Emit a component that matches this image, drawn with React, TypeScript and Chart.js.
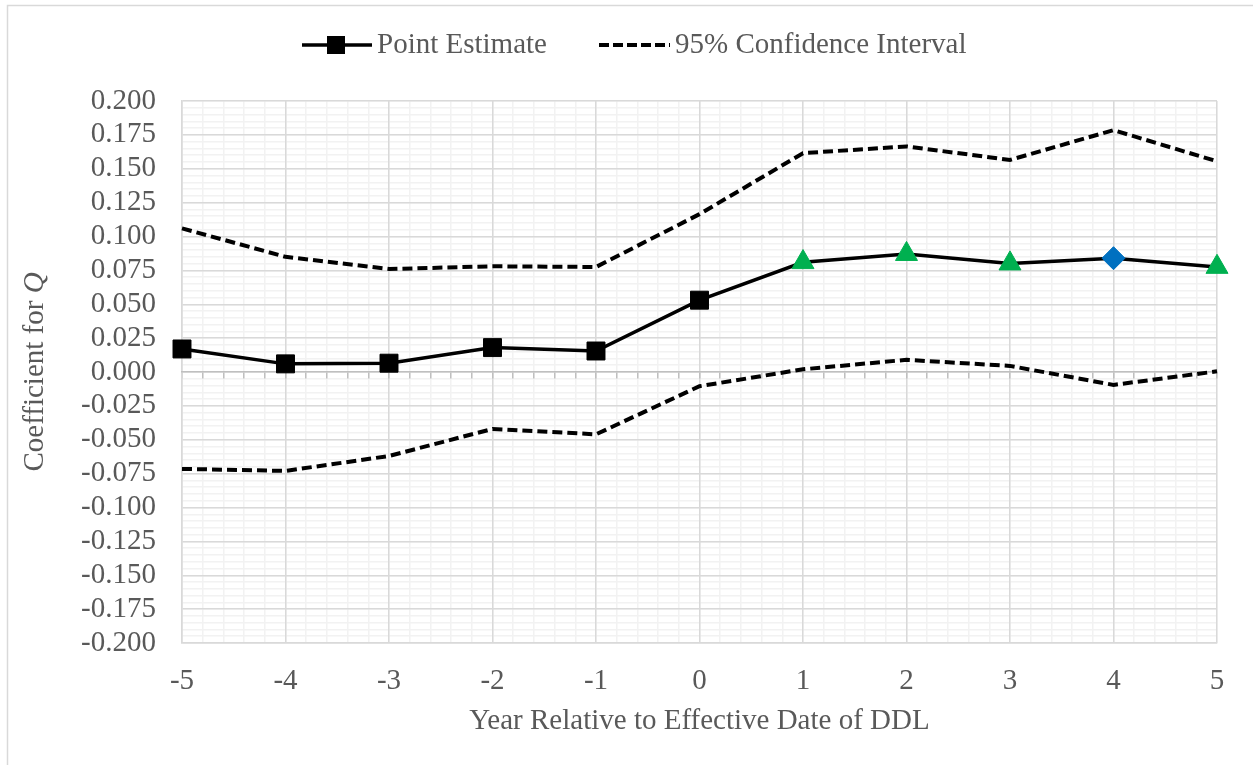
import React, { useEffect, useRef } from "react";
import { Chart, registerables } from "chart.js";

Chart.register(...registerables);

// ---- data ----
const years = [-5, -4, -3, -2, -1, 0, 1, 2, 3, 4, 5];
const pointEstimate = [0.017, 0.006, 0.0065, 0.018, 0.0155, 0.053, 0.081, 0.087, 0.08, 0.084, 0.0775];
const upperCI = [0.106, 0.085, 0.076, 0.078, 0.0775, 0.1165, 0.1615, 0.1665, 0.1565, 0.1785, 0.1555];
const lowerCI = [-0.0715, -0.073, -0.062, -0.042, -0.046, -0.0105, 0.002, 0.009, 0.0045, -0.0095, 0.0005];
const markerStyles = ["rect", "rect", "rect", "rect", "rect", "rect", "triangle", "triangle", "triangle", "rectRot", "triangle"];
const markerColors = ["#000000", "#000000", "#000000", "#000000", "#000000", "#000000", "#00B050", "#00B050", "#00B050", "#0070C0", "#00B050"];
const markerSizes = [12.7, 12.7, 12.7, 12.7, 12.7, 12.7, 12.7, 12.7, 12.7, 11.5, 12.7];

const xTicks = [-5, -4, -3, -2, -1, 0, 1, 2, 3, 4, 5];
const yTicks = [-0.2, -0.175, -0.15, -0.125, -0.1, -0.075, -0.05, -0.025, 0, 0.025, 0.05, 0.075, 0.1, 0.125, 0.15, 0.175, 0.2];

const legendLabels = ["Point Estimate", "95% Confidence Interval"];
const xTitle = "Year Relative to Effective Date of DDL";
const yTitleMain = "Coefficient for ";
const yTitleItalic = "Q";

const FONT = "'Liberation Serif', 'Times New Roman', serif";
const TEXT = "#595959";
const MAJOR = "#D9D9D9";
const MINOR = "#F2F2F2";
const FS = 29;

function minorTicks(min: number, max: number, n: number) {
  const out: { value: number }[] = [];
  for (let i = 0; i <= n; i++) out.push({ value: min + ((max - min) * i) / n });
  return out;
}

const decorPlugin = {
  id: "decor",
  beforeDraw(chart: any) {
    const ctx = chart.ctx;
    ctx.save();
    ctx.fillStyle = "#ffffff";
    ctx.fillRect(0, 0, chart.width, chart.height);
    ctx.strokeStyle = MAJOR;
    ctx.lineWidth = 1.5;
    ctx.strokeRect(7.5, 5.5, chart.width + 20, chart.height + 20);
    ctx.restore();
  },
  afterDraw(chart: any) {
    const ctx = chart.ctx;
    const area = chart.chartArea;
    ctx.save();
    // y title with italic Q
    ctx.fillStyle = TEXT;
    ctx.textBaseline = "middle";
    ctx.textAlign = "left";
    ctx.translate(35, (area.top + area.bottom) / 2);
    ctx.rotate(-Math.PI / 2);
    ctx.font = `${FS}px ${FONT}`;
    const w1 = ctx.measureText(yTitleMain).width;
    ctx.font = `italic ${FS}px ${FONT}`;
    const w2 = ctx.measureText(yTitleItalic).width;
    const start = -(w1 + w2) / 2;
    ctx.font = `${FS}px ${FONT}`;
    ctx.fillText(yTitleMain, start, 0);
    ctx.font = `italic ${FS}px ${FONT}`;
    ctx.fillText(yTitleItalic, start + w1, 0);
    ctx.restore();

    // legend
    ctx.save();
    const ly = 45;
    ctx.strokeStyle = "#000";
    ctx.lineWidth = 3.5;
    ctx.beginPath();
    ctx.moveTo(302, ly);
    ctx.lineTo(372, ly);
    ctx.stroke();
    ctx.fillStyle = "#000";
    ctx.fillRect(327, ly - 9, 18, 18);
    ctx.lineWidth = 4;
    ctx.setLineDash([10, 4]);
    ctx.beginPath();
    ctx.moveTo(599, ly);
    ctx.lineTo(670, ly);
    ctx.stroke();
    ctx.setLineDash([]);
    ctx.fillStyle = TEXT;
    ctx.font = `${FS}px ${FONT}`;
    ctx.textBaseline = "middle";
    ctx.textAlign = "left";
    ctx.fillText(legendLabels[0], 377, ly);
    ctx.fillText(legendLabels[1], 675, ly);
    ctx.restore();
  },
};

export default function App() {
  const ref = useRef<HTMLCanvasElement | null>(null);
  useEffect(() => {
    document.body.style.margin = "0";
    if (!ref.current) return;
    const pts = (vals: number[]) => years.map((x, i) => ({ x, y: vals[i] }));
    const chart = new Chart(ref.current, {
      type: "line",
      data: {
        datasets: [
          {
            label: legendLabels[0],
            data: pts(pointEstimate),
            borderColor: "#000000",
            borderWidth: 3.5,
            pointStyle: markerStyles as any,
            pointBackgroundColor: markerColors,
            pointBorderColor: markerColors,
            pointBorderWidth: 1,
            pointRadius: markerSizes,
            tension: 0,
            clip: false as any,
          },
          {
            label: legendLabels[1],
            data: pts(upperCI),
            borderColor: "#000000",
            borderWidth: 4,
            borderDash: [10, 5],
            pointRadius: 0,
            tension: 0,
            clip: false as any,
          },
          {
            label: legendLabels[1] + " (lower)",
            data: pts(lowerCI),
            borderColor: "#000000",
            borderWidth: 4,
            borderDash: [10, 5],
            pointRadius: 0,
            tension: 0,
            clip: false as any,
          },
        ],
      },
      options: {
        responsive: false,
        animation: false,
        layout: { padding: { top: 101, right: 36, bottom: 0, left: 0 } },
        plugins: { legend: { display: false }, tooltip: { enabled: false } },
        scales: {
          xMinor: {
            type: "linear",
            axis: "x",
            position: "bottom",
            min: -5,
            max: 5,
            afterBuildTicks: (s: any) => { s.ticks = minorTicks(-5, 5, 50); },
            afterFit: (s: any) => { s.height = 0; },
            ticks: { display: false },
            grid: { color: MINOR, lineWidth: 1.5, drawTicks: false, z: -2 } as any,
            border: { display: false },
          },
          yMinor: {
            type: "linear",
            axis: "y",
            position: "left",
            min: -0.2,
            max: 0.2,
            afterBuildTicks: (s: any) => { s.ticks = minorTicks(-0.2, 0.2, 80); },
            afterFit: (s: any) => { s.width = 0; },
            ticks: { display: false },
            grid: { color: MINOR, lineWidth: 1.5, drawTicks: false, z: -2 } as any,
            border: { display: false },
          },
          x: {
            type: "linear",
            position: "bottom",
            min: -5,
            max: 5,
            afterBuildTicks: (s: any) => { s.ticks = xTicks.map((v) => ({ value: v })); },
            afterFit: (s: any) => { s.height = 122; },
            ticks: {
              autoSkip: false,
              color: TEXT,
              font: { family: FONT, size: FS },
              padding: 21,
              callback: (v: any) => String(v),
            },
            grid: { color: MAJOR, lineWidth: 1.5, drawTicks: false },
            border: { display: true, color: MAJOR, width: 1.5 },
            title: {
              display: true,
              text: xTitle,
              color: TEXT,
              font: { family: FONT, size: FS },
              padding: { top: 0, bottom: 26 },
            },
          },
          y: {
            type: "linear",
            position: "left",
            min: -0.2,
            max: 0.2,
            afterBuildTicks: (s: any) => { s.ticks = yTicks.map((v) => ({ value: v })); },
            afterFit: (s: any) => { s.width = 182; },
            ticks: {
              autoSkip: false,
              color: TEXT,
              font: { family: FONT, size: FS },
              padding: 26,
              callback: (v: any) => (Math.abs(v) < 1e-9 ? "0.000" : Number(v).toFixed(3)),
            },
            grid: { color: MAJOR, lineWidth: 1.5, drawTicks: false },
            border: { display: true, color: MAJOR, width: 1.5 },
          },
          xZero: {
            type: "linear",
            axis: "x",
            position: { y: 0 } as any,
            min: -5,
            max: 5,
            afterBuildTicks: (s: any) => { s.ticks = minorTicks(-5, 5, 50); },
            ticks: { display: false },
            grid: { color: "#BFBFBF", lineWidth: 1.5, drawOnChartArea: false, drawTicks: true, tickLength: 6 },
            border: { display: true, color: "#BFBFBF", width: 1.5 },
          },
        } as any,
      },
      plugins: [decorPlugin],
    });
    return () => chart.destroy();
  }, []);
  return (
    <div style={{ width: 1253, height: 765 }}>
      <canvas ref={ref} width={1253} height={765} style={{ display: "block" }} />
    </div>
  );
}
